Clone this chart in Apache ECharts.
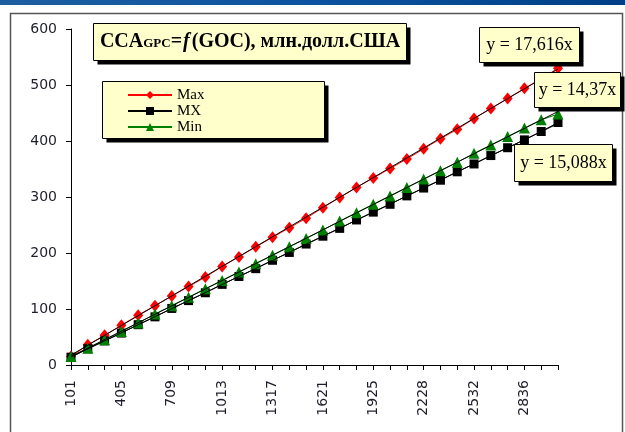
<!DOCTYPE html>
<html>
<head>
<meta charset="utf-8">
<script src="https://cdn.jsdelivr.net/npm/echarts@6/dist/echarts.min.js"></script>
<style>
  html, body { margin: 0; padding: 0; background: #ffffff; }
  #chart { width: 625px; height: 432px; }
</style>
</head>
<body>
<div id="chart"></div>
<script>
// GOC values on the category axis
const categories = ['101','203','304','405','506','608','709','810','912','1013',
  '1114','1215','1317','1418','1519','1621','1722','1823','1925','2026',
  '2127','2228','2330','2431','2532','2634','2735','2836','2937','3039'];

const seriesNames = ['Max', 'MX', 'Min'];

const maxValues = [15, 36, 53, 71, 89, 106, 123, 140, 157, 176, 193, 211, 228, 245, 262,
  281, 299, 317, 334, 351, 368, 386, 404, 421, 440, 458, 476, 494, 511, 530];
const mxValues  = [14, 29, 43, 57, 72, 86, 101, 115, 129, 144, 158, 172, 187, 201, 216,
  230, 244, 259, 273, 287, 302, 316, 330, 345, 359, 374, 388, 402, 417, 433];
const minValues = [15, 30, 45, 60, 75, 91, 106, 121, 136, 151, 166, 181, 196, 211, 226,
  241, 257, 272, 287, 302, 317, 332, 347, 362, 378, 393, 408, 423, 438, 448];

// Slopes of the zero-intercept linear trendlines (Max, MX, Min)
const trendSlopes = [17.616, 14.37, 15.088];

const yTicks = { min: 0, max: 600, interval: 100 };

const colors = ['#ff0000', '#000000', '#008000'];
const symbols = ['diamond', 'rect', 'triangle'];
const symbolSizes = [[10, 12], 9, 11];
const dataSets = [maxValues, mxValues, minValues];

function fmtSlope(k) { return 'y = ' + String(k).replace('.', ',') + 'x'; }

const chart = echarts.init(document.getElementById('chart'), null, { renderer: 'canvas' });

const n = categories.length;
const series = seriesNames.map((name, s) => ({
  name: name,
  type: 'line',
  data: dataSets[s],
  symbol: symbols[s],
  symbolSize: symbolSizes[s],
  showAllSymbol: true,
  itemStyle: { color: colors[s] },
  lineStyle: { color: colors[s], width: 1 },
  z: 2 + s,
  markLine: {
    silent: true,
    symbol: ['none', 'none'],
    label: { show: false },
    lineStyle: { color: '#000000', width: 1, type: 'solid' },
    emphasis: { disabled: true },
    z: 10,
    data: [[
      { coord: [categories[0], trendSlopes[s] * 1] },
      { coord: [categories[n - 1], trendSlopes[s] * n] }
    ]]
  }
}));

const serif = '"Liberation Serif", "Times New Roman", serif';

// framed text boxes with a hard drop shadow
function box(x, y, w, h, z) {
  return [
    { type: 'rect', z: z, shape: { x: x + 4, y: y + 4, width: w, height: h }, style: { fill: '#000000' } },
    { type: 'rect', z: z, shape: { x: x, y: y, width: w, height: h }, style: { fill: '#ffffcc', stroke: '#000000', lineWidth: 1 } }
  ];
}

const trendBoxes = [
  { x: 479.5, y: 27.5, w: 100, h: 35 },
  { x: 534.5, y: 72.5, w: 86, h: 35 },
  { x: 514.5, y: 144.5, w: 98, h: 37 }
];

const graphics = [
  { type: 'rect', z: 1, shape: { x: 0, y: 0, width: 625, height: 5 },
    style: { fill: new echarts.graphic.LinearGradient(0, 0, 1, 0, [
      { offset: 0, color: '#1d5e9f' }, { offset: 0.5, color: '#0c54a0' }, { offset: 1, color: '#003f86' }]) } },
  { type: 'rect', z: 1, shape: { x: 10.5, y: 13.5, width: 612, height: 430 },
    style: { fill: null, stroke: '#555555', lineWidth: 1.5 } }
];

// title
graphics.push(...box(93.5, 23.5, 313, 37, 20));
graphics.push({
  type: 'text', z: 21, x: 250, y: 42,
  style: {
    text: '{a|CCA}{b|GPC}{a|=}{i|f}{a|(GOC), млн.долл.США}',
    align: 'center', verticalAlign: 'middle',
    rich: {
      a: { fontFamily: serif, fontWeight: 'bold', fontSize: 20, fill: '#000' },
      b: { fontFamily: serif, fontWeight: 'bold', fontSize: 13, fill: '#000', verticalAlign: 'bottom', padding: [0, 0, 2, 0] },
      i: { fontFamily: serif, fontWeight: 'bold', fontStyle: 'italic', fontSize: 20, fill: '#000', padding: [0, 2, 0, 1] }
    }
  }
});

// legend panel
graphics.push(...box(102.5, 81.5, 222, 57, 20));

// trendline equation labels
trendBoxes.forEach((b, i) => {
  graphics.push(...box(b.x, b.y, b.w, b.h, 30));
  graphics.push({
    type: 'text', z: 31, x: b.x + b.w / 2, y: b.y + b.h / 2,
    style: { text: fmtSlope(trendSlopes[i]), align: 'center', verticalAlign: 'middle',
      fontFamily: serif, fontSize: 18, fill: '#000' }
  });
});

const option = {
  animation: false,
  backgroundColor: '#ffffff',
  grid: { left: 71, right: 67, top: 29, bottom: 67, containLabel: false },
  legend: {
    show: true,
    orient: 'vertical',
    left: 127, top: 87,
    padding: 0,
    itemWidth: 44, itemHeight: 10, itemGap: 0,
    z: 25,
    textStyle: { fontFamily: serif, fontSize: 15, color: '#000', lineHeight: 16 },
    data: seriesNames
  },
  xAxis: {
    type: 'category',
    data: categories,
    boundaryGap: false,
    axisLine: { lineStyle: { color: '#000', width: 1 } },
    axisTick: { show: true, interval: 0, length: 5, lineStyle: { color: '#000' } },
    axisLabel: { interval: 2, rotate: 90, margin: 15, fontFamily: '"DejaVu Sans", sans-serif', fontSize: 14, color: '#1e1e2a' },
    splitLine: { show: false }
  },
  yAxis: {
    type: 'value',
    min: yTicks.min, max: yTicks.max, interval: yTicks.interval,
    axisLine: { show: true, lineStyle: { color: '#000', width: 1 } },
    axisTick: { show: true, length: 5, lineStyle: { color: '#000' } },
    axisLabel: { margin: 14, fontFamily: '"DejaVu Sans", sans-serif', fontSize: 14, color: '#1e1e2a' },
    splitLine: { show: false }
  },
  graphic: { elements: graphics },
  series: series
};

chart.setOption(option);
</script>
</body>
</html>
